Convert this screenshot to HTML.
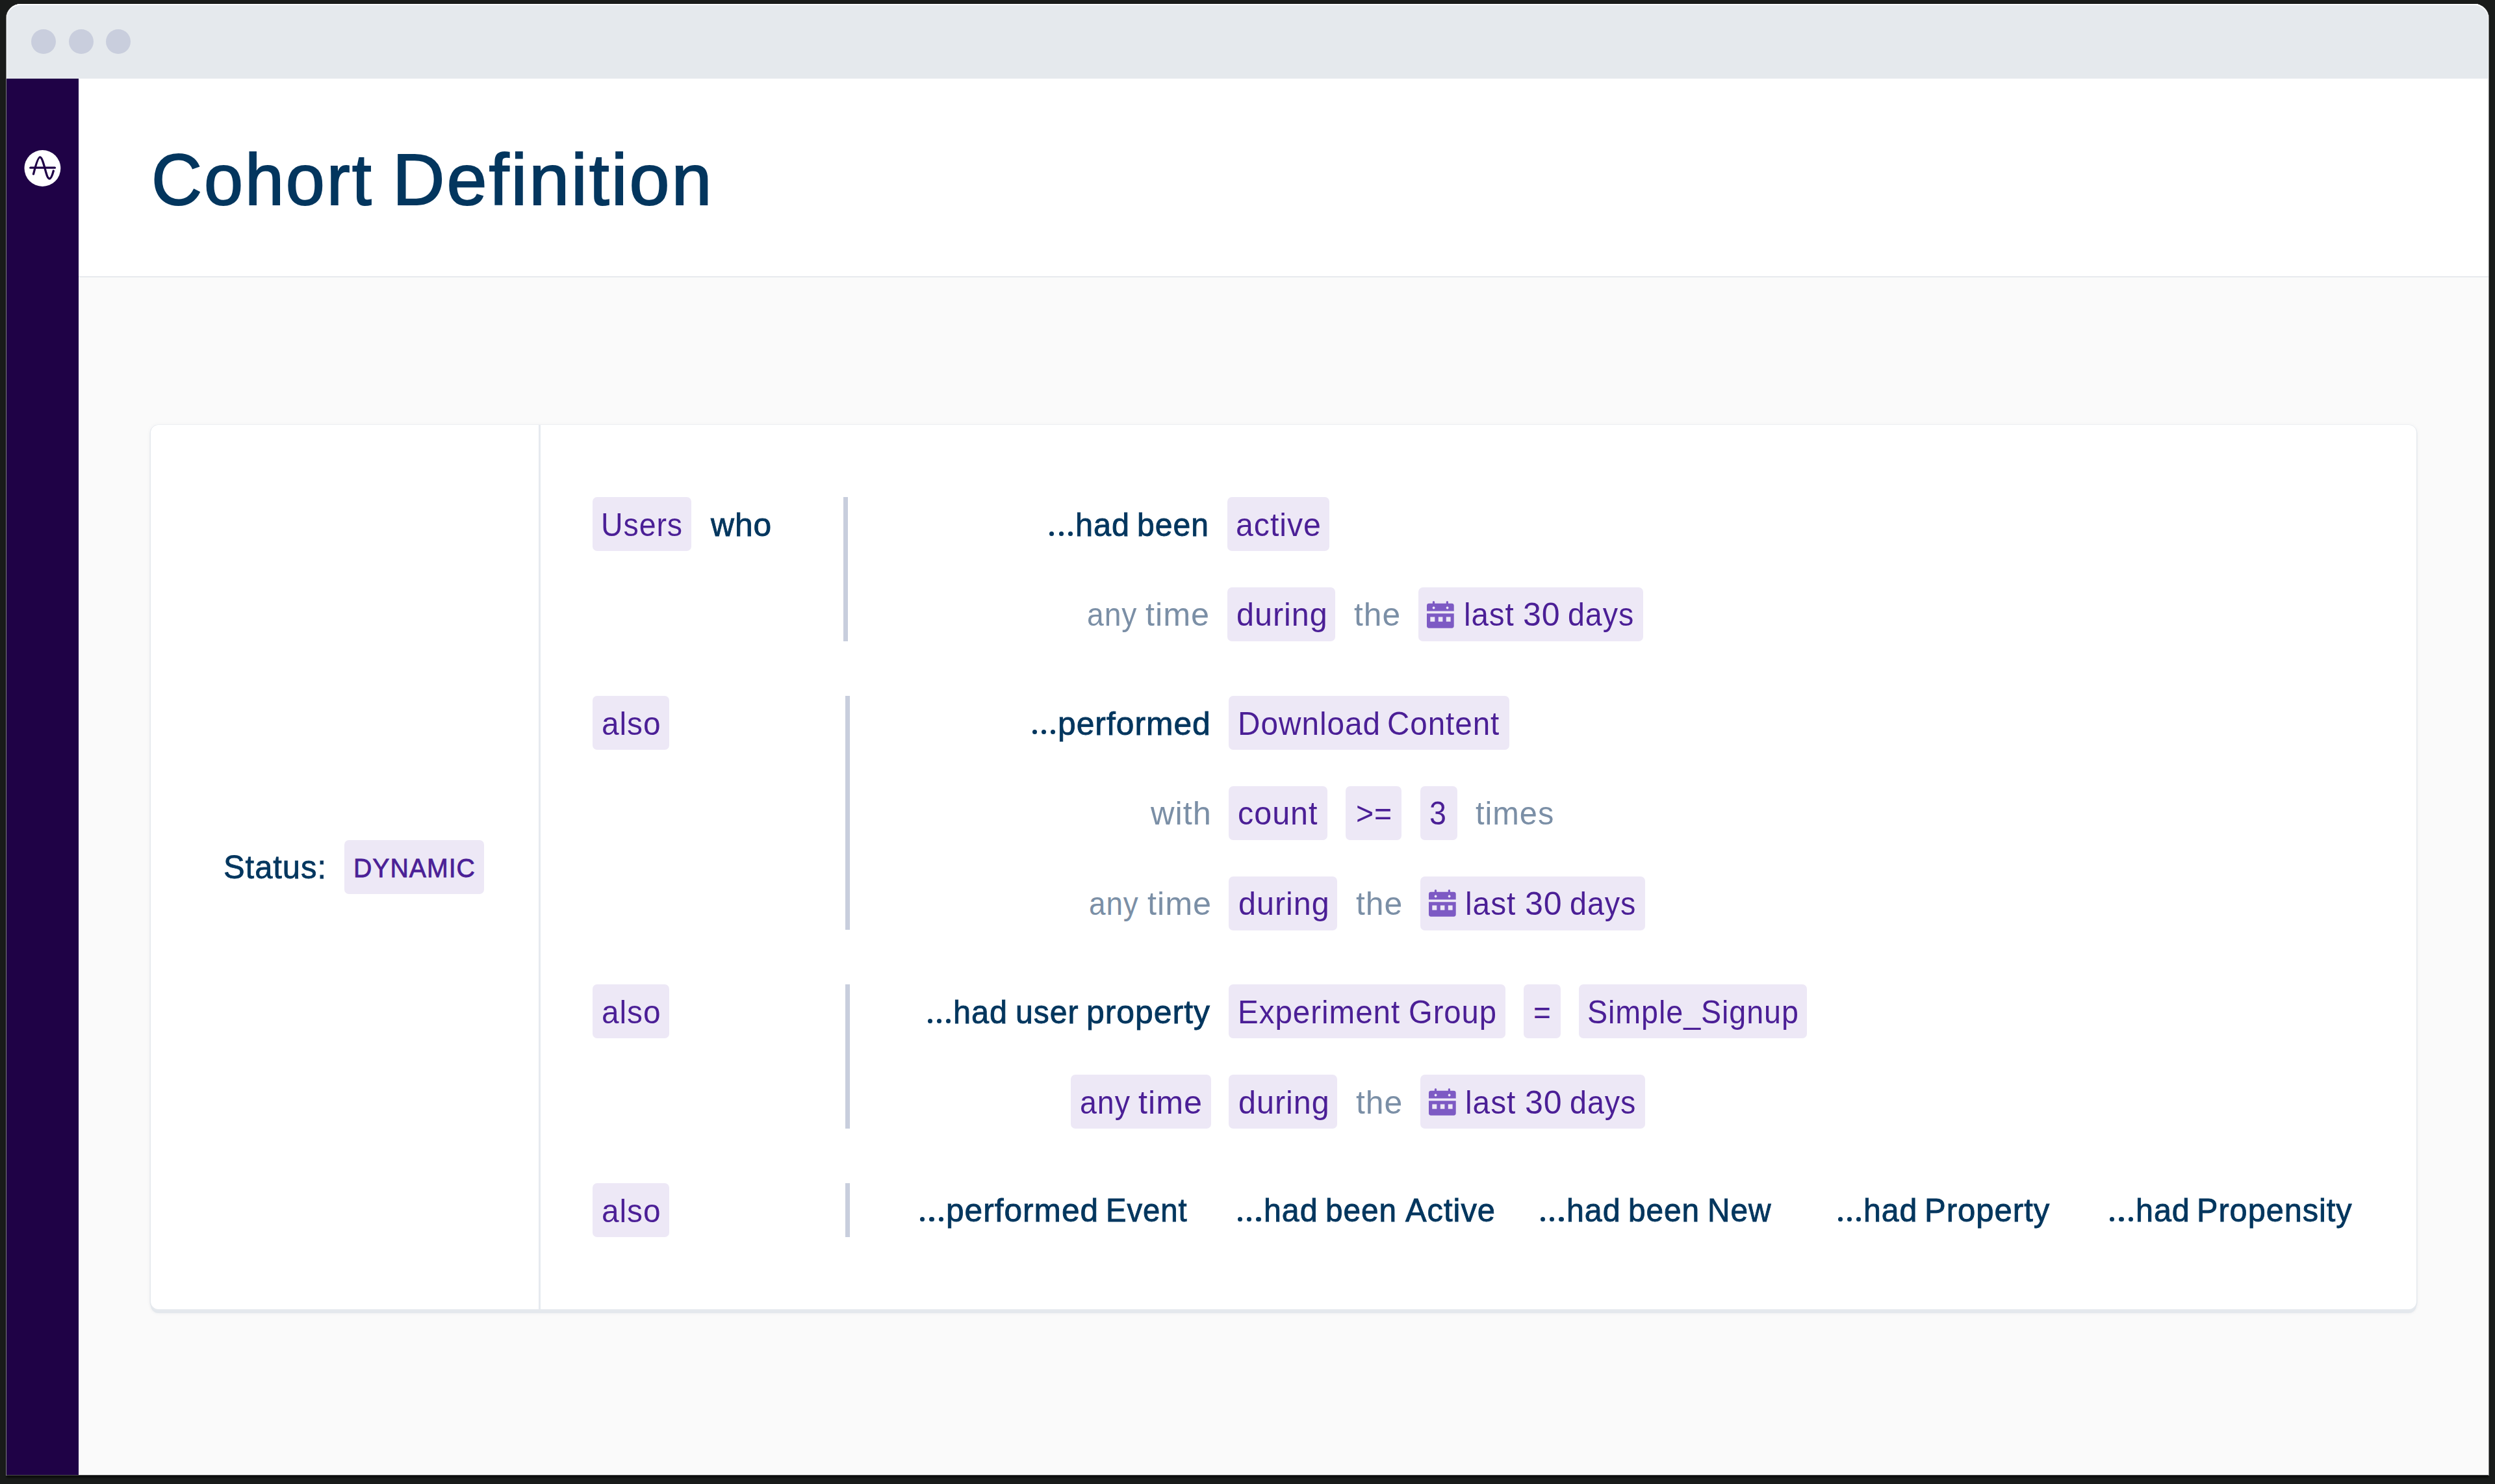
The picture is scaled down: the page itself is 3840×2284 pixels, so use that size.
<!DOCTYPE html>
<html><head><meta charset="utf-8"><style>
html,body{margin:0;padding:0}
body{width:3840px;height:2284px;background:#191b1a;position:relative;overflow:hidden;font-family:"Liberation Sans",sans-serif}
.r{position:absolute}
.t{position:absolute;white-space:nowrap;line-height:normal;transform-origin:0 0}
</style></head><body>
<div class="r" style="left:10px;top:6px;width:3820px;height:2264px;background:#fafafa;border-radius:22px 22px 0 0;box-shadow:0 4px 3px rgba(0,0,0,.6)"></div>
<div class="r" style="left:10px;top:6px;width:3820px;height:115px;background:#e5e9ed;border-radius:22px 22px 0 0;box-shadow:inset 0 2px 0 #fbfcfd, inset 1px 0 0 #f4f6f8, inset -1px 0 0 #f4f6f8"></div>
<div class="r" style="left:48px;top:45px;width:38px;height:38px;border-radius:50%;background:#c9cedd"></div>
<div class="r" style="left:105.5px;top:45px;width:38px;height:38px;border-radius:50%;background:#c9cedd"></div>
<div class="r" style="left:162.7px;top:45px;width:38px;height:38px;border-radius:50%;background:#c9cedd"></div>
<div class="r" style="left:10px;top:121px;width:111px;height:2149px;background:#1f0246;border-radius:0px;"></div>
<div class="r" style="left:121px;top:121px;width:3709px;height:304px;background:#ffffff;border-radius:0px;"></div>
<div class="r" style="left:121px;top:425px;width:3709px;height:2px;background:#e7eaee;border-radius:0px;"></div>
<svg class="r" style="left:37px;top:231px" width="57" height="57" viewBox="0 0 57 57"><circle cx="28.4" cy="28" r="27.9" fill="#fff"/><path d="M9.8 27.2H47.4" stroke="#1f0246" stroke-width="3.2" stroke-linecap="round" fill="none"/><path d="M14.5 36.8C16.6 28.5 21.2 10.9 24.6 10.9C28 10.9 31.2 25.5 34 35C35.6 41 37 44 39.1 44C41.6 44 43.6 38.5 45.3 32" stroke="#1f0246" stroke-width="3.3" stroke-linecap="round" stroke-linejoin="round" fill="none"/></svg>
<div class="t" style="left:233.14px;top:212.75px;font-size:111px;color:#03365e;-webkit-text-stroke:2.0px #03365e;letter-spacing:3px;transform:scaleX(0.9729)">Cohort</div>
<div class="t" style="left:604.07px;top:212.75px;font-size:111px;color:#03365e;-webkit-text-stroke:2.0px #03365e;letter-spacing:3px;transform:scaleX(1.0036)">Definition</div>
<div class="r" style="left:232px;top:654px;width:3487px;height:1361px;background:#fff;border-radius:12px;box-shadow:0 1px 0 1.5px #e5e9ee, 0 6px 0 0 #e4e8ed, 0 7px 5px 0 rgba(30,50,80,.04), 0 1px 6px 2px rgba(30,50,80,.03)"></div>
<div class="r" style="left:829px;top:654px;width:3px;height:1361px;background:#e6eaef;border-radius:0px;"></div>
<div class="t" style="left:343.54px;top:1306.40px;font-size:50px;color:#03365e;-webkit-text-stroke:0.8px #03365e;letter-spacing:1px;transform:scaleX(0.9776)">Status:</div>
<div class="r" style="left:530px;top:1293px;width:215px;height:83px;background:#ede8f6;border-radius:7px;"></div>
<div class="t" style="left:544.13px;top:1312.80px;font-size:41px;color:#4b1f96;-webkit-text-stroke:0.8px #4b1f96;letter-spacing:1px;transform:scaleX(0.9581)">DYNAMIC</div>
<div class="r" style="left:912px;top:765px;width:152px;height:83px;background:#ede8f6;border-radius:7px;"></div>
<div class="t" style="left:925.08px;top:779.00px;font-size:50px;color:#4b1f96;letter-spacing:1px;transform:scaleX(0.9295)">Users</div>
<div class="t" style="left:1093.80px;top:779.00px;font-size:50px;color:#03365e;-webkit-text-stroke:0.9px #03365e;letter-spacing:1px;transform:scaleX(0.9946)">who</div>
<div class="r" style="left:1298px;top:765px;width:7px;height:222px;background:#c8cedd;border-radius:0px;"></div>
<div class="r" style="left:1615.30px;top:817.80px;width:7.2px;height:7.2px;border-radius:50%;background:#03365e"></div><div class="r" style="left:1629.50px;top:817.80px;width:7.2px;height:7.2px;border-radius:50%;background:#03365e"></div><div class="r" style="left:1643.70px;top:817.80px;width:7.2px;height:7.2px;border-radius:50%;background:#03365e"></div><div class="t" style="left:1654.88px;top:779.00px;font-size:50px;color:#03365e;-webkit-text-stroke:0.9px #03365e;letter-spacing:1px;transform:scaleX(0.9734)">had</div>
<div class="t" style="left:1749.81px;top:779.00px;font-size:50px;color:#03365e;-webkit-text-stroke:0.9px #03365e;letter-spacing:1px;transform:scaleX(0.9624)">been</div>
<div class="r" style="left:1889px;top:765px;width:157px;height:83px;background:#ede8f6;border-radius:7px;"></div>
<div class="t" style="left:1901.67px;top:779.00px;font-size:50px;color:#4b1f96;letter-spacing:1px;transform:scaleX(0.9649)">active</div>
<div class="t" style="left:1673.35px;top:917.00px;font-size:50px;color:#7b8fa6;letter-spacing:1px;transform:scaleX(0.9262)">any</div>
<div class="t" style="left:1762.99px;top:917.00px;font-size:50px;color:#7b8fa6;letter-spacing:1px;transform:scaleX(1.0064)">time</div>
<div class="r" style="left:1889px;top:904px;width:166px;height:83px;background:#ede8f6;border-radius:7px;"></div>
<div class="t" style="left:1902.66px;top:917.00px;font-size:50px;color:#4b1f96;letter-spacing:1px;transform:scaleX(0.9705)">during</div>
<div class="t" style="left:2084.01px;top:917.00px;font-size:50px;color:#7b8fa6;letter-spacing:1px;transform:scaleX(0.9941)">the</div>
<div class="r" style="left:2183px;top:904px;width:346px;height:83px;background:#ede8f6;border-radius:7px;"></div>
<svg class="r" style="left:2196.2px;top:925px" width="42" height="42" viewBox="0 0 42 42"><path fill="#7d5ac4" d="M3.4 3.7H38.3A3.4 3.4 0 0 1 41.7 7.1V15.6H0V7.1A3.4 3.4 0 0 1 3.4 3.7Z"/><path fill="#7d5ac4" d="M0 19.2H41.7V38.3A3.4 3.4 0 0 1 38.3 41.7H3.4A3.4 3.4 0 0 1 0 38.3Z"/><rect fill="#7d5ac4" x="8.9" y="0" width="3.2" height="6" rx="1.6"/><rect fill="#7d5ac4" x="29.8" y="0" width="3.2" height="6" rx="1.6"/><circle fill="#ede8f6" cx="10.6" cy="10.5" r="1.9"/><circle fill="#ede8f6" cx="31.6" cy="10.5" r="1.9"/><rect fill="#ede8f6" x="5.3" y="24.5" width="7" height="7.2"/><rect fill="#ede8f6" x="17.8" y="24.5" width="6.6" height="7.2"/><rect fill="#ede8f6" x="29.8" y="24.5" width="6.8" height="7.2"/></svg>
<div class="t" style="left:2252.55px;top:917.00px;font-size:50px;color:#4b1f96;letter-spacing:1px;transform:scaleX(0.9500)">last</div>
<div class="t" style="left:2343.60px;top:917.00px;font-size:50px;color:#4b1f96;letter-spacing:1px;transform:scaleX(1.0019)">30</div>
<div class="t" style="left:2412.84px;top:917.00px;font-size:50px;color:#4b1f96;letter-spacing:1px;transform:scaleX(0.9314)">days</div>
<div class="r" style="left:912px;top:1071px;width:118px;height:83px;background:#ede8f6;border-radius:7px;"></div>
<div class="t" style="left:925.59px;top:1084.50px;font-size:50px;color:#4b1f96;letter-spacing:1px;transform:scaleX(0.9560)">also</div>
<div class="r" style="left:1301px;top:1071px;width:7px;height:360px;background:#c8cedd;border-radius:0px;"></div>
<div class="r" style="left:1588.60px;top:1123.30px;width:7.2px;height:7.2px;border-radius:50%;background:#03365e"></div><div class="r" style="left:1602.80px;top:1123.30px;width:7.2px;height:7.2px;border-radius:50%;background:#03365e"></div><div class="r" style="left:1617.00px;top:1123.30px;width:7.2px;height:7.2px;border-radius:50%;background:#03365e"></div><div class="t" style="left:1628.11px;top:1084.50px;font-size:50px;color:#03365e;-webkit-text-stroke:0.9px #03365e;letter-spacing:1px;transform:scaleX(0.9952)">performed</div>
<div class="r" style="left:1891px;top:1071px;width:432px;height:83px;background:#ede8f6;border-radius:7px;"></div>
<div class="t" style="left:1904.78px;top:1084.50px;font-size:50px;color:#4b1f96;letter-spacing:1px;transform:scaleX(0.9550)">Download</div>
<div class="t" style="left:2135.25px;top:1084.50px;font-size:50px;color:#4b1f96;letter-spacing:1px;transform:scaleX(0.9511)">Content</div>
<div class="t" style="left:1771.00px;top:1223.00px;font-size:50px;color:#7b8fa6;letter-spacing:1px;transform:scaleX(1.0112)">with</div>
<div class="r" style="left:1891px;top:1210px;width:152px;height:83px;background:#ede8f6;border-radius:7px;"></div>
<div class="t" style="left:1904.76px;top:1223.00px;font-size:50px;color:#4b1f96;letter-spacing:1px;transform:scaleX(0.9702)">count</div>
<div class="r" style="left:2071px;top:1210px;width:86px;height:83px;background:#ede8f6;border-radius:7px;"></div>
<div class="t" style="left:2086.94px;top:1223.00px;font-size:50px;color:#4b1f96;letter-spacing:1px;transform:scaleX(0.9309)">&gt;=</div>
<div class="r" style="left:2186px;top:1210px;width:57px;height:83px;background:#ede8f6;border-radius:7px;"></div>
<div class="t" style="left:2199.73px;top:1223.00px;font-size:50px;color:#4b1f96;letter-spacing:1px;transform:scaleX(0.9333)">3</div>
<div class="t" style="left:2271.33px;top:1223.00px;font-size:50px;color:#7b8fa6;letter-spacing:1px;transform:scaleX(0.9744)">times</div>
<div class="t" style="left:1676.07px;top:1362.00px;font-size:50px;color:#7b8fa6;letter-spacing:1px;transform:scaleX(0.9175)">any</div>
<div class="t" style="left:1765.59px;top:1362.00px;font-size:50px;color:#7b8fa6;letter-spacing:1px;transform:scaleX(1.0064)">time</div>
<div class="r" style="left:1891px;top:1349px;width:167px;height:83px;background:#ede8f6;border-radius:7px;"></div>
<div class="t" style="left:1905.66px;top:1362.00px;font-size:50px;color:#4b1f96;letter-spacing:1px;transform:scaleX(0.9705)">during</div>
<div class="t" style="left:2086.70px;top:1362.00px;font-size:50px;color:#7b8fa6;letter-spacing:1px;transform:scaleX(0.9971)">the</div>
<div class="r" style="left:2186px;top:1349px;width:346px;height:83px;background:#ede8f6;border-radius:7px;"></div>
<svg class="r" style="left:2199.2px;top:1369.2px" width="42" height="42" viewBox="0 0 42 42"><path fill="#7d5ac4" d="M3.4 3.7H38.3A3.4 3.4 0 0 1 41.7 7.1V15.6H0V7.1A3.4 3.4 0 0 1 3.4 3.7Z"/><path fill="#7d5ac4" d="M0 19.2H41.7V38.3A3.4 3.4 0 0 1 38.3 41.7H3.4A3.4 3.4 0 0 1 0 38.3Z"/><rect fill="#7d5ac4" x="8.9" y="0" width="3.2" height="6" rx="1.6"/><rect fill="#7d5ac4" x="29.8" y="0" width="3.2" height="6" rx="1.6"/><circle fill="#ede8f6" cx="10.6" cy="10.5" r="1.9"/><circle fill="#ede8f6" cx="31.6" cy="10.5" r="1.9"/><rect fill="#ede8f6" x="5.3" y="24.5" width="7" height="7.2"/><rect fill="#ede8f6" x="17.8" y="24.5" width="6.6" height="7.2"/><rect fill="#ede8f6" x="29.8" y="24.5" width="6.8" height="7.2"/></svg>
<div class="t" style="left:2255.13px;top:1362.00px;font-size:50px;color:#4b1f96;letter-spacing:1px;transform:scaleX(0.9564)">last</div>
<div class="t" style="left:2346.70px;top:1362.00px;font-size:50px;color:#4b1f96;letter-spacing:1px;transform:scaleX(1.0019)">30</div>
<div class="t" style="left:2415.53px;top:1362.00px;font-size:50px;color:#4b1f96;letter-spacing:1px;transform:scaleX(0.9333)">days</div>
<div class="r" style="left:912px;top:1515px;width:118px;height:83px;background:#ede8f6;border-radius:7px;"></div>
<div class="t" style="left:925.59px;top:1529.00px;font-size:50px;color:#4b1f96;letter-spacing:1px;transform:scaleX(0.9560)">also</div>
<div class="r" style="left:1301px;top:1515px;width:7px;height:222px;background:#c8cedd;border-radius:0px;"></div>
<div class="r" style="left:1427.80px;top:1567.80px;width:7.2px;height:7.2px;border-radius:50%;background:#03365e"></div><div class="r" style="left:1442.00px;top:1567.80px;width:7.2px;height:7.2px;border-radius:50%;background:#03365e"></div><div class="r" style="left:1456.20px;top:1567.80px;width:7.2px;height:7.2px;border-radius:50%;background:#03365e"></div><div class="t" style="left:1467.38px;top:1529.00px;font-size:50px;color:#03365e;-webkit-text-stroke:0.9px #03365e;letter-spacing:1px;transform:scaleX(0.9722)">had</div>
<div class="t" style="left:1562.81px;top:1529.00px;font-size:50px;color:#03365e;-webkit-text-stroke:0.9px #03365e;letter-spacing:1px;transform:scaleX(0.9619)">user</div>
<div class="t" style="left:1672.11px;top:1529.00px;font-size:50px;color:#03365e;-webkit-text-stroke:0.9px #03365e;letter-spacing:1px;transform:scaleX(0.9979)">property</div>
<div class="r" style="left:1891px;top:1515px;width:426px;height:83px;background:#ede8f6;border-radius:7px;"></div>
<div class="t" style="left:1905.39px;top:1529.00px;font-size:50px;color:#4b1f96;letter-spacing:1px;transform:scaleX(0.9516)">Experiment</div>
<div class="t" style="left:2167.87px;top:1529.00px;font-size:50px;color:#4b1f96;letter-spacing:1px;transform:scaleX(0.9442)">Group</div>
<div class="r" style="left:2345px;top:1515px;width:57px;height:83px;background:#ede8f6;border-radius:7px;"></div>
<div class="t" style="left:2359.87px;top:1529.00px;font-size:50px;color:#4b1f96;letter-spacing:1px;transform:scaleX(0.9160)">=</div>
<div class="r" style="left:2430px;top:1515px;width:351px;height:83px;background:#ede8f6;border-radius:7px;"></div>
<div class="t" style="left:2442.90px;top:1529.00px;font-size:50px;color:#4b1f96;letter-spacing:1px;transform:scaleX(0.9327)">Simple_Signup</div>
<div class="r" style="left:1648px;top:1654px;width:216px;height:83px;background:#ede8f6;border-radius:7px;"></div>
<div class="t" style="left:1661.94px;top:1668.00px;font-size:50px;color:#4b1f96;letter-spacing:1px;transform:scaleX(0.9313)">any</div>
<div class="t" style="left:1752.19px;top:1668.00px;font-size:50px;color:#4b1f96;letter-spacing:1px;transform:scaleX(1.0064)">time</div>
<div class="r" style="left:1891px;top:1654px;width:167px;height:83px;background:#ede8f6;border-radius:7px;"></div>
<div class="t" style="left:1905.66px;top:1668.00px;font-size:50px;color:#4b1f96;letter-spacing:1px;transform:scaleX(0.9705)">during</div>
<div class="t" style="left:2086.70px;top:1668.00px;font-size:50px;color:#7b8fa6;letter-spacing:1px;transform:scaleX(0.9971)">the</div>
<div class="r" style="left:2186px;top:1654px;width:346px;height:83px;background:#ede8f6;border-radius:7px;"></div>
<svg class="r" style="left:2199.2px;top:1675.2px" width="42" height="42" viewBox="0 0 42 42"><path fill="#7d5ac4" d="M3.4 3.7H38.3A3.4 3.4 0 0 1 41.7 7.1V15.6H0V7.1A3.4 3.4 0 0 1 3.4 3.7Z"/><path fill="#7d5ac4" d="M0 19.2H41.7V38.3A3.4 3.4 0 0 1 38.3 41.7H3.4A3.4 3.4 0 0 1 0 38.3Z"/><rect fill="#7d5ac4" x="8.9" y="0" width="3.2" height="6" rx="1.6"/><rect fill="#7d5ac4" x="29.8" y="0" width="3.2" height="6" rx="1.6"/><circle fill="#ede8f6" cx="10.6" cy="10.5" r="1.9"/><circle fill="#ede8f6" cx="31.6" cy="10.5" r="1.9"/><rect fill="#ede8f6" x="5.3" y="24.5" width="7" height="7.2"/><rect fill="#ede8f6" x="17.8" y="24.5" width="6.6" height="7.2"/><rect fill="#ede8f6" x="29.8" y="24.5" width="6.8" height="7.2"/></svg>
<div class="t" style="left:2255.13px;top:1668.00px;font-size:50px;color:#4b1f96;letter-spacing:1px;transform:scaleX(0.9564)">last</div>
<div class="t" style="left:2346.70px;top:1668.00px;font-size:50px;color:#4b1f96;letter-spacing:1px;transform:scaleX(1.0019)">30</div>
<div class="t" style="left:2415.53px;top:1668.00px;font-size:50px;color:#4b1f96;letter-spacing:1px;transform:scaleX(0.9333)">days</div>
<div class="r" style="left:912px;top:1821px;width:118px;height:83px;background:#ede8f6;border-radius:7px;"></div>
<div class="t" style="left:925.59px;top:1834.50px;font-size:50px;color:#4b1f96;letter-spacing:1px;transform:scaleX(0.9560)">also</div>
<div class="r" style="left:1301px;top:1821px;width:7px;height:83px;background:#c8cedd;border-radius:0px;"></div>
<div class="r" style="left:1416.20px;top:1872.80px;width:7.2px;height:7.2px;border-radius:50%;background:#03365e"></div><div class="r" style="left:1430.40px;top:1872.80px;width:7.2px;height:7.2px;border-radius:50%;background:#03365e"></div><div class="r" style="left:1444.60px;top:1872.80px;width:7.2px;height:7.2px;border-radius:50%;background:#03365e"></div><div class="t" style="left:1455.72px;top:1834.00px;font-size:50px;color:#03365e;-webkit-text-stroke:0.9px #03365e;letter-spacing:1px;transform:scaleX(0.9926)">performed</div>
<div class="t" style="left:1701.82px;top:1834.00px;font-size:50px;color:#03365e;-webkit-text-stroke:0.9px #03365e;letter-spacing:1px;transform:scaleX(0.9445)">Event</div>
<div class="r" style="left:1905.00px;top:1872.80px;width:7.2px;height:7.2px;border-radius:50%;background:#03365e"></div><div class="r" style="left:1919.20px;top:1872.80px;width:7.2px;height:7.2px;border-radius:50%;background:#03365e"></div><div class="r" style="left:1933.40px;top:1872.80px;width:7.2px;height:7.2px;border-radius:50%;background:#03365e"></div><div class="t" style="left:1944.60px;top:1834.00px;font-size:50px;color:#03365e;-webkit-text-stroke:0.9px #03365e;letter-spacing:1px;transform:scaleX(0.9671)">had</div>
<div class="t" style="left:2040.04px;top:1834.00px;font-size:50px;color:#03365e;-webkit-text-stroke:0.9px #03365e;letter-spacing:1px;transform:scaleX(0.9541)">been</div>
<div class="t" style="left:2162.90px;top:1834.00px;font-size:50px;color:#03365e;-webkit-text-stroke:0.9px #03365e;letter-spacing:1px;transform:scaleX(0.9777)">Active</div>
<div class="r" style="left:2371.00px;top:1872.80px;width:7.2px;height:7.2px;border-radius:50%;background:#03365e"></div><div class="r" style="left:2385.20px;top:1872.80px;width:7.2px;height:7.2px;border-radius:50%;background:#03365e"></div><div class="r" style="left:2399.40px;top:1872.80px;width:7.2px;height:7.2px;border-radius:50%;background:#03365e"></div><div class="t" style="left:2410.60px;top:1834.00px;font-size:50px;color:#03365e;-webkit-text-stroke:0.9px #03365e;letter-spacing:1px;transform:scaleX(0.9671)">had</div>
<div class="t" style="left:2505.83px;top:1834.00px;font-size:50px;color:#03365e;-webkit-text-stroke:0.9px #03365e;letter-spacing:1px;transform:scaleX(0.9560)">been</div>
<div class="t" style="left:2628.17px;top:1834.00px;font-size:50px;color:#03365e;-webkit-text-stroke:0.9px #03365e;letter-spacing:1px;transform:scaleX(0.9566)">New</div>
<div class="r" style="left:2828.60px;top:1872.80px;width:7.2px;height:7.2px;border-radius:50%;background:#03365e"></div><div class="r" style="left:2842.80px;top:1872.80px;width:7.2px;height:7.2px;border-radius:50%;background:#03365e"></div><div class="r" style="left:2857.00px;top:1872.80px;width:7.2px;height:7.2px;border-radius:50%;background:#03365e"></div><div class="t" style="left:2868.21px;top:1834.00px;font-size:50px;color:#03365e;-webkit-text-stroke:0.9px #03365e;letter-spacing:1px;transform:scaleX(0.9646)">had</div>
<div class="t" style="left:2962.38px;top:1834.00px;font-size:50px;color:#03365e;-webkit-text-stroke:0.9px #03365e;letter-spacing:1px;transform:scaleX(0.9812)">Property</div>
<div class="r" style="left:3247.20px;top:1872.80px;width:7.2px;height:7.2px;border-radius:50%;background:#03365e"></div><div class="r" style="left:3261.40px;top:1872.80px;width:7.2px;height:7.2px;border-radius:50%;background:#03365e"></div><div class="r" style="left:3275.60px;top:1872.80px;width:7.2px;height:7.2px;border-radius:50%;background:#03365e"></div><div class="t" style="left:3286.79px;top:1834.00px;font-size:50px;color:#03365e;-webkit-text-stroke:0.9px #03365e;letter-spacing:1px;transform:scaleX(0.9696)">had</div>
<div class="t" style="left:3381.41px;top:1834.00px;font-size:50px;color:#03365e;-webkit-text-stroke:0.9px #03365e;letter-spacing:1px;transform:scaleX(0.9730)">Propensity</div>
<div class="r" style="left:9px;top:6px;width:3822px;height:2265px;border-radius:22px 22px 0 0;box-shadow:inset 1px 0 0 rgba(255,255,255,.45), inset -1px 0 0 rgba(255,255,255,.45), inset 0 -1px 0 rgba(120,120,120,.6)"></div>
</body></html>
